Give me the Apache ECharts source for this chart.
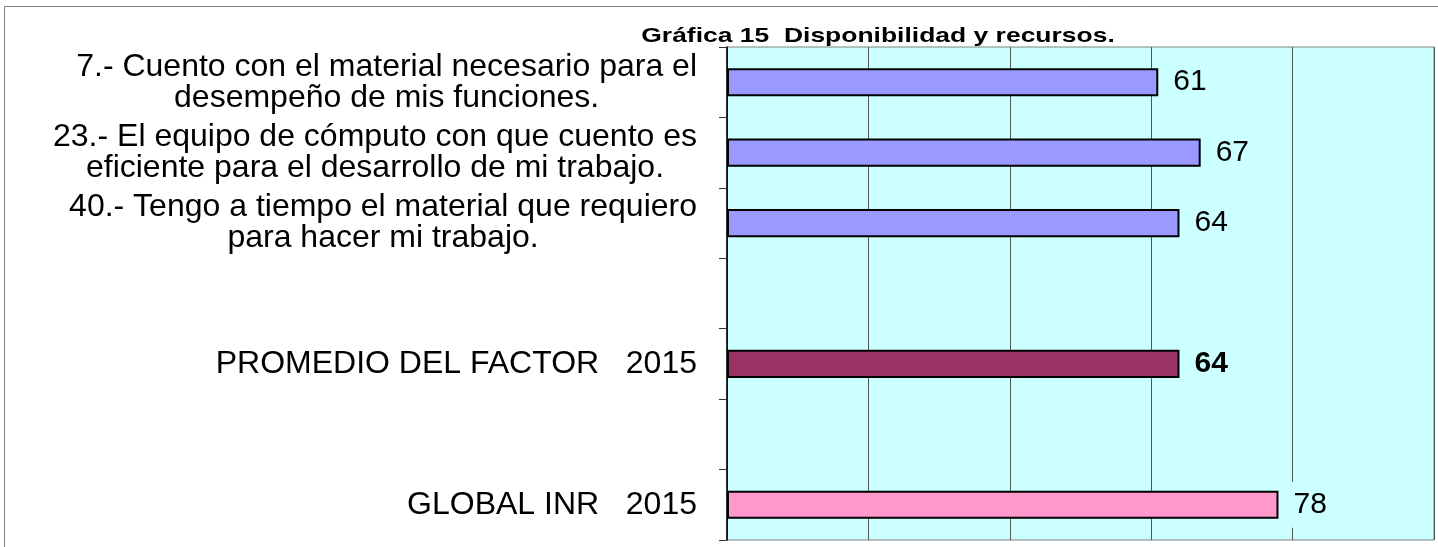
<!DOCTYPE html>
<html>
<head>
<meta charset="utf-8">
<script src="https://cdn.jsdelivr.net/npm/echarts@6/dist/echarts.min.js"></script>
<style>
html,body{margin:0;padding:0;background:#fff;}
#chart{width:1438px;height:547px;}
</style>
</head>
<body>
<div id="chart"></div>
<script>
const titleText = 'Gráfica 15  Disponibilidad y recursos.';
const categories = [
  '7.- Cuento con el material necesario para el\ndesempeño de mis funciones.',
  '23.- El equipo de cómputo con que cuento es\neficiente para el desarrollo de mi trabajo.',
  '40.- Tengo a tiempo el material que requiero\npara hacer mi trabajo.',
  '',
  'PROMEDIO DEL FACTOR   2015',
  '',
  'GLOBAL INR   2015'
];
const values = [61, 67, 64, null, 64, null, 78];
const barColors = ['#9999FF', '#9999FF', '#9999FF', '#9999FF', '#993366', '#993366', '#FF99CC'];
const boldLabel = [false, false, false, false, true, false, false];
const xMin = 0, xMax = 100, xInterval = 20;

const chart = echarts.init(document.getElementById('chart'));
const data = values.map((v, i) => ({
  value: v,
  itemStyle: { color: barColors[i] },
  label: { fontWeight: boldLabel[i] ? 'bold' : 'normal' }
}));

chart.setOption({
  animation: false,
  backgroundColor: '#ffffff',
  graphic: [{
    type: 'rect', z: -10,
    shape: { x: 4.5, y: 6.5, width: 1450, height: 560 },
    style: { fill: 'none', stroke: '#7f7f7f', lineWidth: 1 }
  }, {
    type: 'text', x: 878, y: 36, scaleX: 1.26, z: 10,
    style: {
      text: titleText, fontFamily: 'Liberation Sans', fontSize: 21, fontWeight: 'bold',
      fill: '#000', align: 'center', verticalAlign: 'middle',
      textAlign: 'center', textVerticalAlign: 'middle'
    }
  }],
  grid: {
    left: 727, right: 4, top: 47, bottom: 7,
    show: true, backgroundColor: '#CCFFFF', borderColor: '#808080', borderWidth: 1
  },
  xAxis: {
    type: 'value', min: xMin, max: xMax, interval: xInterval,
    axisLine: { show: false }, axisTick: { show: false }, axisLabel: { show: false },
    splitLine: { show: true, lineStyle: { color: '#555555', width: 1 } }
  },
  yAxis: {
    type: 'category', data: categories, inverse: true,
    axisLine: { show: true, lineStyle: { color: '#000', width: 1.5 } },
    axisTick: { show: true, length: 8, lineStyle: { color: '#333' } },
    axisLabel: {
      margin: 30,
      fontFamily: 'Liberation Sans', fontSize: 32, color: '#000',
      lineHeight: 31,
      formatter: function (val) {
        if (!val) return '';
        return val.split('\n').map(s => '{c|' + s + '}').join('\n');
      },
      rich: { c: { align: 'center', fontFamily: 'Liberation Sans', fontSize: 32, lineHeight: 31, color: '#000' } }
    }
  },
  series: [{
    type: 'bar', data: data, barWidth: '40%',
    itemStyle: { borderColor: '#000', borderWidth: 2 },
    label: {
      show: true, position: 'right', distance: 13,
      fontFamily: 'Liberation Sans', fontSize: 30, color: '#000',
      backgroundColor: '#CCFFFF', padding: [8, 2]
    }
  }]
});
</script>
</body>
</html>
